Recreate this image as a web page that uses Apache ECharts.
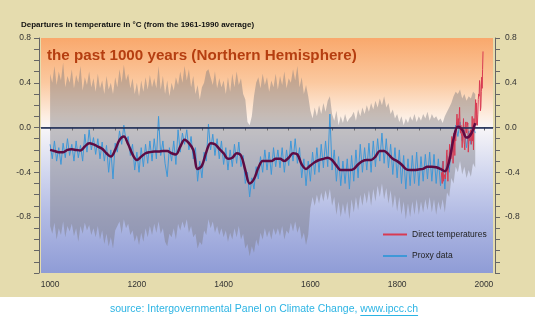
<!DOCTYPE html>
<html>
<head>
<meta charset="utf-8">
<script src="https://cdn.jsdelivr.net/npm/echarts@6/dist/echarts.min.js"></script>
<style>
  html, body { margin: 0; padding: 0; background: #ffffff; }
  #chart { width: 535px; height: 322px; }
</style>
</head>
<body>
<div id="chart"></div>
<script>
// Northern Hemisphere temperature departures (°C, relative to 1961-1990)

// 5-year proxy reconstruction, 1000-1980
const proxyValues = [
  -0.15,-0.28,-0.12,-0.30,-0.18,-0.33,-0.14,-0.27,-0.10,-0.25,
  -0.15,-0.30,-0.12,-0.27,-0.16,-0.30,-0.06,-0.22,-0.02,-0.20,
  -0.09,-0.24,-0.10,-0.28,-0.13,-0.30,-0.16,-0.40,-0.20,-0.46,
  -0.14,-0.22,-0.03,-0.15, 0.02,-0.12,-0.08,-0.25,-0.15,-0.38,
  -0.22,-0.40,-0.18,-0.35,-0.15,-0.32,-0.12,-0.30,-0.10,-0.28,
   0.10,-0.25,-0.12,-0.32,-0.44,-0.18,-0.30,-0.12,-0.33,-0.02,
  -0.22,-0.05,-0.15,-0.02,-0.20,-0.08,-0.28,-0.18,-0.48,-0.30,
  -0.45,-0.22,-0.30, 0.03,-0.20,-0.06,-0.25,-0.10,-0.28,-0.12,
  -0.33,-0.18,-0.38,-0.20,-0.35,-0.15,-0.32,-0.13,-0.35,-0.25,
  -0.50,-0.40,-0.62,-0.45,-0.55,-0.35,-0.46,-0.26,-0.40,-0.20,
  -0.38,-0.22,-0.42,-0.18,-0.35,-0.20,-0.36,-0.18,-0.40,-0.20,
  -0.34,-0.12,-0.30,-0.10,-0.32,-0.18,-0.45,-0.28,-0.52,-0.30,
  -0.48,-0.22,-0.42,-0.18,-0.40,-0.15,-0.36,-0.12,-0.35, 0.12,
  -0.38,-0.20,-0.48,-0.26,-0.52,-0.30,-0.50,-0.28,-0.55,-0.25,
  -0.48,-0.20,-0.45,-0.15,-0.40,-0.18,-0.38,-0.14,-0.40,-0.12,
  -0.35,-0.10,-0.30,-0.05,-0.32,-0.10,-0.36,-0.15,-0.42,-0.18,
  -0.45,-0.20,-0.50,-0.25,-0.55,-0.28,-0.52,-0.25,-0.50,-0.22,
  -0.52,-0.26,-0.48,-0.24,-0.46,-0.22,-0.48,-0.24,-0.50,-0.28,
  -0.52,-0.30,-0.55,-0.25,-0.40,-0.15,-0.22, 0.02,-0.08, 0.05,
  -0.12,-0.02,-0.18,-0.03,-0.15, 0.02,-0.05
];

// Upper and lower uncertainty limits of the reconstruction, 5-year steps
const bandUpper = [
  0.48,0.40,0.55,0.38,0.50,0.42,0.58,0.36,0.46,0.40,
  0.52,0.35,0.47,0.40,0.55,0.33,0.45,0.38,0.50,0.36,
  0.44,0.32,0.48,0.35,0.42,0.30,0.46,0.34,0.40,0.30,
  0.45,0.36,0.52,0.40,0.56,0.42,0.48,0.35,0.44,0.30,
  0.40,0.28,0.42,0.32,0.45,0.34,0.47,0.36,0.44,0.35,
  0.55,0.34,0.46,0.30,0.42,0.28,0.40,0.33,0.45,0.38,
  0.50,0.40,0.55,0.42,0.52,0.36,0.46,0.30,0.38,0.25,
  0.36,0.40,0.50,0.52,0.45,0.38,0.50,0.35,0.44,0.36,
  0.42,0.30,0.45,0.32,0.48,0.36,0.50,0.38,0.44,0.30,
  0.25,0.05,0.02,0.10,0.28,0.40,0.45,0.35,0.48,0.38,
  0.45,0.32,0.42,0.36,0.48,0.34,0.46,0.38,0.50,0.35,
  0.44,0.40,0.52,0.42,0.55,0.36,0.45,0.30,0.38,0.28,
  0.15,0.08,0.18,0.10,0.20,0.12,0.22,0.14,0.24,0.28,
  0.12,0.06,0.15,0.02,0.10,0.04,0.12,0.05,0.08,0.10,
  0.14,0.06,0.16,0.10,0.18,0.12,0.20,0.14,0.22,0.16,
  0.24,0.18,0.26,0.20,0.28,0.18,0.22,0.12,0.16,0.08,
  0.12,0.05,0.10,0.02,0.08,0.04,0.10,0.06,0.12,0.05,
  0.10,0.06,0.12,0.08,0.14,0.06,0.12,0.08,0.10,0.06,
  0.08,0.04,0.10,0.14,0.18,0.22,0.28,0.32,0.30,0.34,
  0.26,0.30,0.24,0.28,0.26,0.32,0.30
];
const bandLower = [
  -0.88,-0.95,-0.85,-1.00,-0.90,-0.96,-0.84,-0.98,-0.88,-0.93,
  -0.86,-0.97,-0.90,-1.02,-0.88,-0.95,-0.85,-0.92,-0.87,-0.96,
  -0.90,-0.98,-0.88,-1.00,-0.92,-1.04,-0.95,-1.06,-0.98,-1.08,
  -0.92,-0.88,-0.84,-0.95,-0.82,-0.90,-0.86,-0.96,-0.92,-1.02,
  -0.96,-1.05,-0.94,-1.02,-0.90,-0.98,-0.88,-0.96,-0.86,-0.94,
  -0.84,-0.95,-0.90,-1.02,-1.06,-0.95,-0.98,-0.90,-1.00,-0.86,
  -0.92,-0.84,-0.90,-0.82,-0.94,-0.88,-0.98,-0.95,-1.08,-1.02,
  -1.05,-0.92,-0.96,-0.82,-0.90,-0.84,-0.94,-0.88,-0.96,-0.90,
  -0.98,-0.92,-1.02,-0.94,-1.00,-0.90,-0.98,-0.88,-1.00,-0.95,
  -1.08,-1.04,-1.15,-1.06,-1.12,-1.00,-1.06,-0.94,-1.00,-0.90,
  -0.98,-0.92,-1.00,-0.90,-0.96,-0.90,-0.97,-0.88,-1.00,-0.92,
  -0.95,-0.85,-0.93,-0.84,-0.94,-0.88,-1.00,-0.94,-1.05,-0.96,
  -0.72,-0.62,-0.70,-0.60,-0.68,-0.58,-0.66,-0.56,-0.65,-0.55,
  -0.70,-0.62,-0.78,-0.66,-0.80,-0.68,-0.78,-0.66,-0.82,-0.64,
  -0.76,-0.62,-0.74,-0.60,-0.70,-0.58,-0.68,-0.56,-0.70,-0.55,
  -0.66,-0.52,-0.62,-0.50,-0.64,-0.54,-0.68,-0.56,-0.72,-0.60,
  -0.75,-0.62,-0.78,-0.66,-0.82,-0.68,-0.80,-0.66,-0.78,-0.64,
  -0.78,-0.66,-0.76,-0.64,-0.74,-0.62,-0.76,-0.64,-0.78,-0.66,
  -0.74,-0.64,-0.76,-0.58,-0.62,-0.45,-0.50,-0.35,-0.40,-0.30,
  -0.42,-0.35,-0.45,-0.38,-0.44,-0.32,-0.36
];

// Smoothed (50-year) reconstruction, 10-year steps, 1000-1980
const smoothValues = [
  -0.20,-0.21,-0.22,-0.22,-0.20,-0.195,-0.20,-0.205,-0.17,-0.14,
  -0.15,-0.17,-0.19,-0.23,-0.26,-0.20,-0.11,-0.08,-0.15,-0.24,
  -0.29,-0.26,-0.23,-0.22,-0.215,-0.215,-0.21,-0.21,-0.23,-0.24,
  -0.17,-0.11,-0.14,-0.20,-0.37,-0.34,-0.22,-0.14,-0.15,-0.19,
  -0.23,-0.28,-0.27,-0.23,-0.25,-0.38,-0.50,-0.46,-0.36,-0.30,
  -0.30,-0.30,-0.28,-0.28,-0.30,-0.27,-0.23,-0.24,-0.33,-0.37,
  -0.34,-0.31,-0.29,-0.28,-0.27,-0.29,-0.34,-0.38,-0.38,-0.38,
  -0.37,-0.33,-0.30,-0.29,-0.29,-0.26,-0.21,-0.21,-0.24,-0.28,
  -0.30,-0.33,-0.37,-0.38,-0.38,-0.375,-0.37,-0.35,-0.35,-0.355,
  -0.37,-0.39,-0.30,-0.10,0.01,-0.02,-0.09,-0.06,0.04
];

// Annual thermometer record, 1902-1998
const directValues = [
  -0.40,-0.45,-0.50,-0.38,-0.30,-0.48,-0.45,-0.44,-0.42,-0.46,
  -0.40,-0.38,-0.22,-0.20,-0.35,-0.48,-0.35,-0.28,-0.25,-0.15,
  -0.28,-0.25,-0.28,-0.20,-0.08,-0.15,-0.18,-0.32,-0.12,-0.05,
  -0.10,-0.25,-0.05,-0.12,-0.05, 0.05, 0.12, 0.02, 0.05, 0.08,
   0.02, 0.10, 0.18, 0.02,-0.05, 0.02,-0.05,-0.08,-0.18,-0.05,
  -0.02, 0.08,-0.12,-0.15,-0.20, 0.02, 0.05,-0.02,-0.05, 0.05,
   0.02, 0.04,-0.22,-0.15,-0.08,-0.05,-0.12,-0.02,-0.05,-0.15,
  -0.12, 0.10,-0.12,-0.05,-0.20, 0.08,-0.02, 0.05, 0.15, 0.25,
   0.02, 0.22, 0.05, 0.02, 0.12, 0.25, 0.30, 0.28, 0.42, 0.38,
   0.15, 0.18, 0.32, 0.45, 0.35, 0.52, 0.68
];

const yTickLabels = [0.8, 0.4, 0.0, -0.4, -0.8];
const xTickLabels = [1000, 1200, 1400, 1600, 1800, 2000];
const xMinorTicks = [];
for (let y = 1000; y <= 2000; y += 50) xMinorTicks.push(y);

const years5 = [];
for (let y = 1000; y <= 1980; y += 5) years5.push(y);
const years10 = [];
for (let y = 1000; y <= 1980; y += 10) years10.push(y);
const directYears = [];
for (let y = 1902; y <= 1998; y++) directYears.push(y);

const pair = (xs, vs) => xs.map((x, i) => [x, vs[i]]);

const FONT = '"Liberation Sans", Arial, Helvetica, sans-serif';
const chart = echarts.init(document.getElementById('chart'), null, { renderer: 'canvas' });

function yAxisDef(position, margin) {
  return {
    type: 'value',
    position: position,
    min: -1.3,
    max: 0.8,
    interval: 0.1,
    offset: 2,
    axisLine: { show: true, lineStyle: { color: '#666', width: 1 } },
    axisTick: { show: true, length: 5, lineStyle: { color: '#666' } },
    splitLine: { show: false },
    axisLabel: {
      margin: margin,
      fontSize: 8.5,
      color: '#333',
      fontFamily: FONT,
      formatter: function (v) {
        const r = Math.round(v * 10) / 10;
        return yTickLabels.some(t => Math.abs(t - r) < 1e-6) ? r.toFixed(1) : '';
      }
    }
  };
}

// Uncertainty envelope: one polygon, upper limit forward then lower limit back
function renderBand(params, api) {
  if (params.dataIndex !== 0) return null;
  const pts = [];
  for (let i = 0; i < years5.length; i++) pts.push(api.coord([years5[i], bandUpper[i]]));
  for (let i = years5.length - 1; i >= 0; i--) pts.push(api.coord([years5[i], bandLower[i]]));
  return {
    type: 'polygon',
    shape: { points: pts },
    style: { fill: 'rgba(122,120,126,0.43)' }
  };
}

// source line, underline drawn under the web address
const srcMain = 'source: Intergovernmental Panel on Climate Change, ';
const srcLink = 'www.ipcc.ch';
const SRC_FONT = '10.5px ' + FONT;
const measure = document.createElement('canvas').getContext('2d');
measure.font = SRC_FONT;
const wMain = measure.measureText(srcMain).width;
const wLink = measure.measureText(srcLink).width;
const srcX0 = 264 - (wMain + wLink) / 2;

chart.setOption({
  backgroundColor: '#ffffff',
  animation: false,
  textStyle: { fontFamily: FONT },
  title: [
    {
      text: 'Departures in temperature in °C (from the 1961-1990 average)',
      left: 16, top: 16,
      textStyle: { fontSize: 8, fontWeight: 'bold', color: '#111', fontFamily: FONT }
    },
    {
      text: 'the past 1000 years (Northern Hemisphere)',
      left: 42, top: 43,
      textStyle: { fontSize: 15.2, fontWeight: 'bold', color: '#b53e10', fontFamily: FONT }
    }
  ],
  graphic: [
    { type: 'rect', z: -100, silent: true, shape: { x: 0, y: 0, width: 535, height: 297 }, style: { fill: '#e5dcae' } },
    { type: 'text', z: 10, x: srcX0, y: 309, style: { text: srcMain + srcLink, fill: '#2cb4e4', font: SRC_FONT, textAlign: 'left', textVerticalAlign: 'middle' } },
    { type: 'line', z: 10, shape: { x1: srcX0 + wMain, y1: 315.5, x2: srcX0 + wMain + wLink, y2: 315.5 }, style: { stroke: '#2cb4e4', lineWidth: 1 } }
  ],
  legend: {
    orient: 'vertical',
    left: 378, top: 225,
    itemWidth: 24, itemHeight: 2, itemGap: 12.5,
    icon: 'rect',
    textStyle: { fontSize: 8.5, color: '#222', fontFamily: FONT },
    data: ['Direct temperatures', 'Proxy data']
  },
  grid: {
    left: 41, right: 42, top: 38, bottom: 49,
    show: true, borderWidth: 0,
    backgroundColor: new echarts.graphic.LinearGradient(0, 0, 0, 1, [
      { offset: 0, color: '#f9a86c' },
      { offset: 0.19, color: '#fbc9a0' },
      { offset: 0.333, color: '#fdeee2' },
      { offset: 0.381, color: '#f8f6f8' },
      { offset: 0.571, color: '#d2d7ef' },
      { offset: 0.762, color: '#b0b9e3' },
      { offset: 1, color: '#8f9cd6' }
    ])
  },
  xAxis: {
    type: 'value',
    min: 979, max: 2021,
    axisLine: { show: true, lineStyle: { color: '#777', width: 1 } },
    axisTick: { show: true, length: 3, customValues: xMinorTicks, lineStyle: { color: '#666' } },
    axisLabel: {
      customValues: xTickLabels, margin: 7, fontSize: 8.5, color: '#333', fontFamily: FONT,
      formatter: v => String(v)
    },
    splitLine: { show: false }
  },
  yAxis: [yAxisDef('left', 8), yAxisDef('right', 10)],
  series: [
    {
      name: 'band', type: 'custom', renderItem: renderBand,
      data: [[years5[0], bandUpper[0]]], silent: true, z: 1
    },
    {
      name: 'Proxy data', type: 'line', data: pair(years5, proxyValues),
      symbol: 'none', color: '#3f98d8',
      lineStyle: { color: '#3f98d8', width: 1 }, z: 3,
      markLine: {
        silent: true, symbol: 'none', label: { show: false },
        lineStyle: { color: '#1b2b58', width: 1.5, type: 'solid' },
        data: [{ yAxis: 0 }]
      }
    },
    {
      name: 'Direct temperatures', type: 'line', data: pair(directYears, directValues),
      symbol: 'none', color: '#d83a52',
      lineStyle: { color: '#d83a52', width: 1 }, z: 4
    },
    {
      name: 'smoothed', type: 'line', data: pair(years10, smoothValues),
      symbol: 'none', smooth: 0.35,
      lineStyle: { color: '#5e0b42', width: 2.5 }, z: 5
    }
  ]
});
</script>
</body>
</html>
